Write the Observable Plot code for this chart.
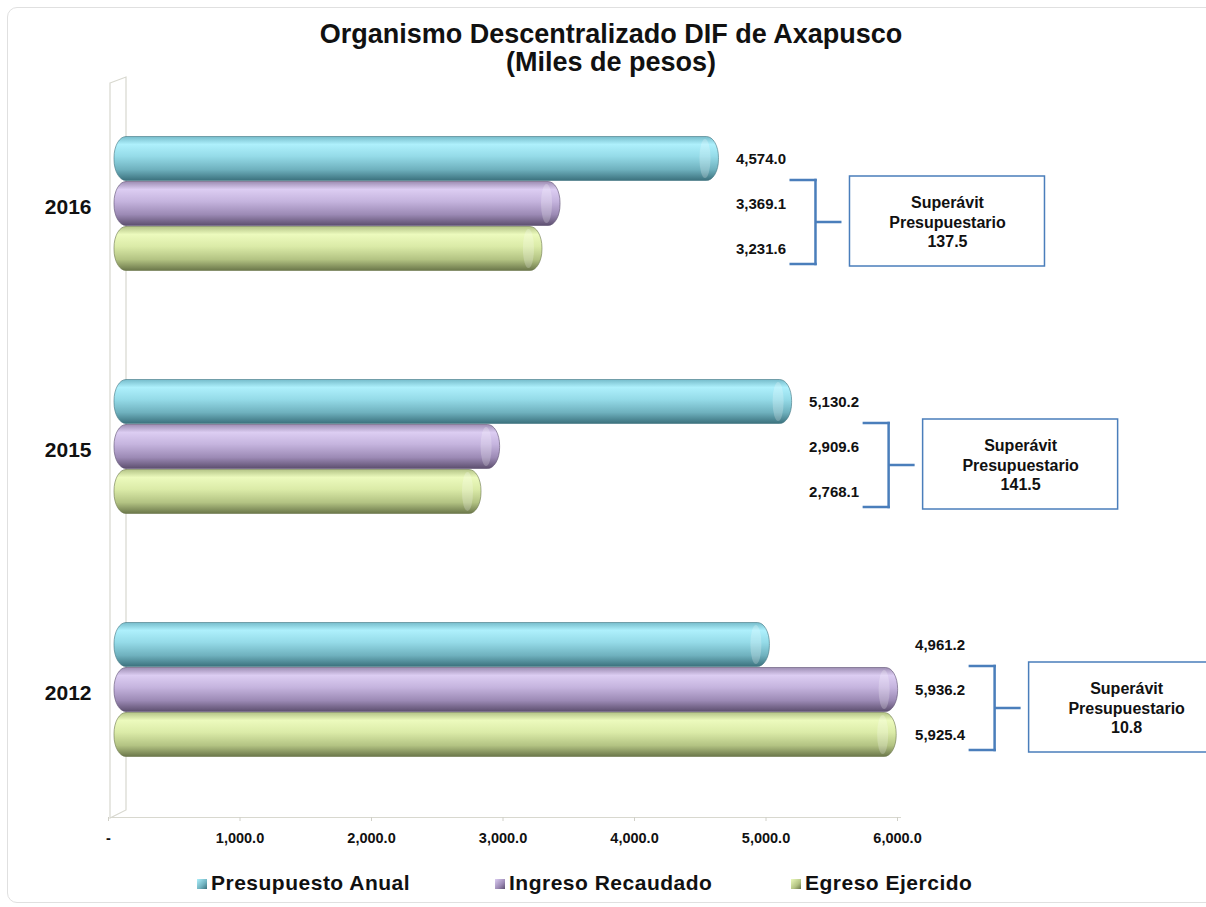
<!DOCTYPE html>
<html>
<head>
<meta charset="utf-8">
<script src="https://cdn.jsdelivr.net/npm/d3@7"></script>
<script src="https://cdn.jsdelivr.net/npm/@observablehq/plot@0.6"></script>
<style>
  body { margin: 0; background: #fff; font-family: "Liberation Sans", Arial, sans-serif; }
  #wrap { position: relative; width: 1206px; height: 907px; overflow: hidden; }
  #border { position: absolute; left: 7px; top: 7px; width: 1240px; height: 896px; border: 1px solid #e0e0e0; border-radius: 10px; box-sizing: border-box; }
  #title { position: relative; height: 70px; padding-top: 20px; padding-left: 16px; box-sizing: border-box; text-align: center; font-weight: bold; font-size: 27px; line-height: 28px; color: #111; overflow: visible; z-index: 2; }
  #chart { position: relative; height: 785px; }
  #chart svg { overflow: visible; }
  #legend { position: relative; height: 52px; }
  .item { position: absolute; top: 13px; line-height: 30px; font-weight: bold; font-size: 21px; letter-spacing: 0.5px; color: #111; white-space: nowrap; }
  .sw { display: inline-block; width: 10px; height: 10px; margin-right: 4px; vertical-align: 1px; }
</style>
</head>
<body>
<div id="wrap">
  <div id="border"></div>
  <div id="title">Organismo Descentralizado DIF de Axapusco<br>(Miles de pesos)</div>
  <div id="chart"></div>
  <div id="legend"></div>
</div>
<script>
// ---- data ----
const years = ["2016", "2015", "2012"];
const series = ["Presupuesto Anual", "Ingreso Recaudado", "Egreso Ejercido"];
const presupuesto = [4574.0, 5130.2, 4961.2];
const ingreso = [3369.1, 2909.6, 5936.2];
const egreso = [3231.6, 2768.1, 5925.4];
const superavit = [137.5, 141.5, 10.8];
const xTicks = [0, 1000, 2000, 3000, 4000, 5000, 6000];

// ---- styles ----
const gradStops = [
  [["0%", "#76bccb"], ["18%", "#aef0fc"], ["45%", "#95dbe8"], ["75%", "#6fb1be"], ["100%", "#3b717d"]],
  [["0%", "#9d8db3"], ["18%", "#dccdf2"], ["45%", "#c5b4de"], ["75%", "#9c8ab5"], ["100%", "#5d4f6f"]],
  [["0%", "#b4c487"], ["18%", "#ecfabd"], ["45%", "#dbeba8"], ["75%", "#b3c383"], ["100%", "#6b774a"]]
];
const edgeColors = ["#3f7480", "#5d4f70", "#6a764a"];
const bracketColor = "#4a7ebb";

const values = [presupuesto, ingreso, egreso];
const rows = [];
years.forEach((y, j) => {
  const mx = Math.max(presupuesto[j], ingreso[j], egreso[j]);
  series.forEach((s, i) => rows.push({year: y, series: s, i, value: values[i][j], max: mx}));
});
const groups = years.map((y, j) => ({
  year: y,
  max: Math.max(presupuesto[j], ingreso[j], egreso[j]),
  surplus: superavit[j]
}));

const fmt1 = d3.format(",.1f");
const tickFmt = d => d === 0 ? "-" : fmt1(d);

function findDims(args) {
  return args.find(a => a && typeof a === "object" && a.marginLeft !== undefined);
}

function defsMark() {
  const ns = "http://www.w3.org/2000/svg";
  const defs = document.createElementNS(ns, "defs");
  gradStops.forEach((stops, i) => {
    const lg = document.createElementNS(ns, "linearGradient");
    lg.setAttribute("id", "g" + i);
    lg.setAttribute("x1", "0"); lg.setAttribute("x2", "0");
    lg.setAttribute("y1", "0"); lg.setAttribute("y2", "1");
    stops.forEach(([o, c]) => {
      const st = document.createElementNS(ns, "stop");
      st.setAttribute("offset", o);
      st.setAttribute("stop-color", c);
      lg.appendChild(st);
    });
    defs.appendChild(lg);
  });
  return defs;
}

function wallMark(...args) {
  const dims = findDims(args);
  const L = dims.marginLeft, T = dims.marginTop, B = dims.height - dims.marginBottom;
  const R = dims.width - dims.marginRight;
  const g = d3.create("svg:g");
  g.append("path")
    .attr("d", `M${L + 2},${T + 6}L${L + 18},${T}L${L + 18},${B - 7}L${L + 2},${B + 1}Z`)
    .attr("fill", "#fff").attr("stroke", "#d8d8cf").attr("stroke-width", 1.2);
  g.append("line")
    .attr("x1", L + 2).attr("x2", R + 4).attr("y1", B + 0.5).attr("y2", B + 0.5)
    .attr("stroke", "#d8d8cf").attr("stroke-width", 1.2);
  return g.node();
}

const BAND = 135, BAR = 45, DX = 9, BR = 106, SW = 2.5;
const marks = [
  defsMark,
  wallMark,
  Plot.axisX({ticks: xTicks, tickSize: 4, tickFormat: () => "", color: "#d0d0c8"}),
  Plot.axisX({ticks: xTicks, tickSize: 0, tickPadding: 15, tickFormat: tickFmt, fontSize: 14.5, fontWeight: "bold", color: "#111"}),
  Plot.axisY({tickSize: 0, tickPadding: 17, fontSize: 21, fontWeight: "bold", color: "#111", dy: 3, label: null})
];
series.forEach((s, i) => {
  const data = rows.filter(r => r.i === i);
  marks.push(Plot.barX(data, {
    x1: 0, x2: "value", y: "year",
    insetTop: i * BAR + 0.5, insetBottom: (2 - i) * BAR + 0.5,
    insetLeft: -3, dx: DX, rx: 12, ry: 21,
    fill: `url(#g${i})`, stroke: edgeColors[i], strokeWidth: 0.6
  }));
  marks.push(Plot.barX(data, {
    x1: "value", x2: "value", y: "year",
    insetTop: i * BAR + 3, insetBottom: (2 - i) * BAR + 3,
    insetLeft: -19, insetRight: 8, dx: DX, rx: 6, ry: 19,
    fill: "white", fillOpacity: 0.22
  }));
  marks.push(Plot.text(data, {
    x: "max", y: "year", text: d => fmt1(d.value),
    dx: 76, dy: (i - 1) * BAR, textAnchor: "end",
    fontSize: 15, fontWeight: "bold", fill: "#111"
  }));
});

// bracket pieces as thin bars anchored at each group's largest value
function piece(left, right, top, bottom) {
  return Plot.barX(groups, {
    x1: "max", x2: "max", y: "year",
    insetLeft: left, insetRight: -right,
    insetTop: top, insetBottom: BAND - bottom,
    fill: bracketColor
  });
}
const vTop = 44, vBot = 128, vMid = 86;
marks.push(
  piece(BR - SW / 2, BR + SW / 2, vTop - SW / 2, vBot + SW / 2),       // vertical
  piece(BR - 26, BR + SW / 2, vTop - SW / 2, vTop + SW / 2),           // top arm
  piece(BR - 26, BR + SW / 2, vBot - SW / 2, vBot + SW / 2),           // bottom arm
  piece(BR, BR + 26, vMid - SW / 2, vMid + SW / 2),                    // middle tick
  Plot.barX(groups, {x1: "max", x2: "max", y: "year", insetLeft: BR + 34, insetRight: -(BR + 34 + 195), insetTop: 40, insetBottom: 5, fill: "white", stroke: bracketColor, strokeWidth: 1.5}),
  Plot.text(groups, {x: "max", y: "year", dx: BR + 34 + 97.5, dy: 17.5,
    text: d => `Superávit\nPresupuestario\n${d.surplus.toFixed(1)}`,
    lineHeight: 1.22, fontSize: 16, fontWeight: "bold", fill: "#111"})
);

const chart = Plot.plot({
  width: 1206, height: 785,
  marginLeft: 108, marginRight: 309, marginTop: 7, marginBottom: 38,
  style: {background: "transparent", overflow: "visible", fontFamily: "'Liberation Sans', Arial, sans-serif"},
  x: {domain: [0, 6000], axis: null},
  y: {domain: years, paddingInner: 0.444, paddingOuter: 0.243, axis: null},
  marks
});
document.getElementById("chart").appendChild(chart);

// legend
const legend = document.getElementById("legend");
const legendLeft = [197, 495, 791];
series.forEach((s, i) => {
  const item = document.createElement("div");
  item.className = "item";
  item.style.left = legendLeft[i] + "px";
  const sw = document.createElement("span");
  sw.className = "sw";
  sw.style.background = `linear-gradient(135deg, ${gradStops[i][1][1]}, ${gradStops[i][3][1]} 60%, ${gradStops[i][4][1]})`;
  item.appendChild(sw);
  item.appendChild(document.createTextNode(s));
  legend.appendChild(item);
});
</script>
</body>
</html>
